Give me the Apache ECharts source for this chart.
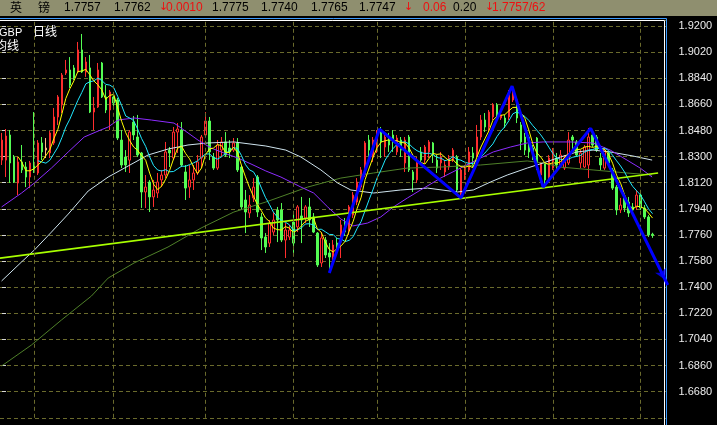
<!DOCTYPE html>
<html>
<head>
<meta charset="utf-8">
<script src="https://cdn.jsdelivr.net/npm/echarts@6/dist/echarts.min.js"></script>
<style>
html, body { margin: 0; padding: 0; background: #000; }
#chart { width: 717px; height: 425px; }
</style>
</head>
<body>
<div id="chart"></div>
<script>
// GBP daily candles, oldest first
const opens = [
  1.8276, 1.8276, 1.8449, 1.8297, 1.8118, 1.8263, 1.8228, 1.8159, 1.8242, 1.8187,
  1.8394, 1.8345, 1.8325, 1.8394, 1.8573, 1.8656, 1.8876, 1.8897, 1.8911, 1.8883,
  1.9035, 1.8883, 1.8911, 1.8607, 1.8642, 1.8945, 1.8711, 1.8621, 1.8711, 1.8690,
  1.8414, 1.8297, 1.8276, 1.8538, 1.8435, 1.8325, 1.8056, 1.8125, 1.8022, 1.8049,
  1.8139, 1.8173, 1.8345, 1.8290, 1.8469, 1.8483, 1.8194, 1.8090, 1.8139, 1.8187,
  1.8290, 1.8449, 1.8545, 1.8297, 1.8221, 1.8345, 1.8401, 1.8359, 1.8345, 1.8394,
  1.8228, 1.8001, 1.7911, 1.8015, 1.8159, 1.7884, 1.7746, 1.7704, 1.7780, 1.7932,
  1.7932, 1.7725, 1.7746, 1.7849, 1.7815, 1.7891, 1.7877, 1.7953, 1.7884, 1.7773,
  1.7567, 1.7725, 1.7636, 1.7608, 1.7704, 1.7711, 1.7849, 1.7794, 1.7897, 1.7987,
  1.8090, 1.8173, 1.8414, 1.8297, 1.8345, 1.8483, 1.8366, 1.8414, 1.8449, 1.8332,
  1.8414, 1.8256, 1.8435, 1.8194, 1.8139, 1.8332, 1.8276, 1.8332, 1.8394, 1.8276,
  1.8256, 1.8194, 1.8228, 1.8276, 1.8297, 1.8035, 1.8173, 1.8208, 1.8325, 1.8311,
  1.8435, 1.8552, 1.8504, 1.8573, 1.8656, 1.8566, 1.8566, 1.8573, 1.8690, 1.8690,
  1.8518, 1.8435, 1.8435, 1.8359, 1.8428, 1.8173, 1.8256, 1.8159, 1.8221, 1.8290,
  1.8242, 1.8221, 1.8256, 1.8435, 1.8401, 1.8256, 1.8228, 1.8242, 1.8449, 1.8435,
  1.8290, 1.8221, 1.8325, 1.8208, 1.8090, 1.7932, 1.8015, 1.7987, 1.7953, 1.7953,
  1.8035, 1.7946, 1.7884, 1.7765
];
const closes = [
  1.8414, 1.8442, 1.8256, 1.8125, 1.8263, 1.8208, 1.8159, 1.8256, 1.8194, 1.8394,
  1.8332, 1.8359, 1.8463, 1.8573, 1.8711, 1.8862, 1.8897, 1.8793, 1.8842, 1.9035,
  1.8883, 1.8952, 1.8607, 1.8635, 1.8897, 1.8711, 1.8621, 1.8745, 1.8669, 1.8428,
  1.8242, 1.8242, 1.8469, 1.8449, 1.8311, 1.8056, 1.8090, 1.8022, 1.8070, 1.8125,
  1.8173, 1.8332, 1.8325, 1.8469, 1.8490, 1.8242, 1.8083, 1.8139, 1.8187, 1.8263,
  1.8435, 1.8545, 1.8332, 1.8221, 1.8380, 1.8401, 1.8311, 1.8332, 1.8394, 1.8208,
  1.7953, 1.7918, 1.7966, 1.8090, 1.7918, 1.7739, 1.7677, 1.7842, 1.7863, 1.7863,
  1.7725, 1.7794, 1.7794, 1.7704, 1.7953, 1.7863, 1.7953, 1.7863, 1.7780, 1.7553,
  1.7739, 1.7622, 1.7608, 1.7691, 1.7677, 1.7829, 1.7780, 1.7953, 1.8035, 1.8125,
  1.8208, 1.8394, 1.8345, 1.8414, 1.8449, 1.8401, 1.8435, 1.8380, 1.8401, 1.8428,
  1.8345, 1.8414, 1.8208, 1.8139, 1.8256, 1.8276, 1.8366, 1.8401, 1.8311, 1.8221,
  1.8297, 1.8242, 1.8290, 1.8345, 1.8070, 1.8208, 1.8221, 1.8332, 1.8290, 1.8435,
  1.8552, 1.8504, 1.8607, 1.8656, 1.8566, 1.8587, 1.8531, 1.8738, 1.8773, 1.8566,
  1.8401, 1.8345, 1.8332, 1.8297, 1.8256, 1.8256, 1.8139, 1.8290, 1.8345, 1.8242,
  1.8311, 1.8290, 1.8414, 1.8414, 1.8311, 1.8325, 1.8366, 1.8435, 1.8380, 1.8345,
  1.8242, 1.8345, 1.8256, 1.8083, 1.7932, 1.7966, 1.7946, 1.7911, 1.7932, 1.8035,
  1.7946, 1.7884, 1.7760, 1.7757
];
const lows = [
  1.8242, 1.8159, 1.8118, 1.8118, 1.8035, 1.8187, 1.8090, 1.8083, 1.8187, 1.8173,
  1.8276, 1.8290, 1.8290, 1.8380, 1.8518, 1.8600, 1.8862, 1.8773, 1.8828, 1.8876,
  1.8876, 1.8849, 1.8600, 1.8483, 1.8635, 1.8704, 1.8600, 1.8483, 1.8635, 1.8414,
  1.8221, 1.8194, 1.8187, 1.8414, 1.8297, 1.7946, 1.7946, 1.7918, 1.7953, 1.8015,
  1.8090, 1.8152, 1.8228, 1.8276, 1.8325, 1.8228, 1.8001, 1.8015, 1.8070, 1.8173,
  1.8221, 1.8435, 1.8276, 1.8208, 1.8208, 1.8297, 1.8297, 1.8290, 1.8332, 1.8194,
  1.7932, 1.7773, 1.7877, 1.7987, 1.7884, 1.7656, 1.7636, 1.7677, 1.7760, 1.7711,
  1.7711, 1.7601, 1.7725, 1.7636, 1.7780, 1.7704, 1.7842, 1.7815, 1.7773, 1.7539,
  1.7539, 1.7601, 1.7505, 1.7553, 1.7643, 1.7601, 1.7753, 1.7760, 1.7877, 1.7966,
  1.8070, 1.8159, 1.8276, 1.8263, 1.8325, 1.8290, 1.8297, 1.8332, 1.8332, 1.8311,
  1.8297, 1.8194, 1.8194, 1.8056, 1.8118, 1.8256, 1.8256, 1.8290, 1.8256, 1.8187,
  1.8208, 1.8159, 1.8208, 1.8263, 1.8056, 1.8015, 1.8139, 1.8194, 1.8228, 1.8297,
  1.8414, 1.8469, 1.8469, 1.8552, 1.8552, 1.8552, 1.8497, 1.8552, 1.8676, 1.8531,
  1.8345, 1.8311, 1.8290, 1.8276, 1.8208, 1.8139, 1.8104, 1.8139, 1.8208, 1.8208,
  1.8221, 1.8208, 1.8242, 1.8345, 1.8297, 1.8221, 1.8221, 1.8152, 1.8366, 1.8332,
  1.8208, 1.8208, 1.8228, 1.8070, 1.7897, 1.7911, 1.7918, 1.7884, 1.7925, 1.7932,
  1.7932, 1.7870, 1.7746, 1.7740
];
const highs = [
  1.8463, 1.8490, 1.8483, 1.8311, 1.8297, 1.8380, 1.8263, 1.8270, 1.8607, 1.8414,
  1.8435, 1.8428, 1.8476, 1.8635, 1.8724, 1.8876, 1.8966, 1.8986, 1.8931, 1.9090,
  1.9145, 1.8986, 1.9000, 1.8711, 1.8945, 1.8952, 1.8793, 1.8759, 1.8745, 1.8704,
  1.8483, 1.8345, 1.8483, 1.8580, 1.8587, 1.8332, 1.8173, 1.8139, 1.8139, 1.8187,
  1.8208, 1.8401, 1.8366, 1.8504, 1.8531, 1.8538, 1.8242, 1.8242, 1.8242, 1.8311,
  1.8449, 1.8607, 1.8573, 1.8325, 1.8414, 1.8435, 1.8469, 1.8414, 1.8428, 1.8428,
  1.8242, 1.8070, 1.8035, 1.8152, 1.8173, 1.7911, 1.7773, 1.7863, 1.7918, 1.7953,
  1.7980, 1.7842, 1.7829, 1.7911, 1.7966, 1.8022, 1.7966, 1.8015, 1.7911, 1.7780,
  1.7780, 1.7746, 1.7704, 1.7725, 1.7739, 1.7863, 1.7877, 1.7966, 1.8056, 1.8152,
  1.8228, 1.8407, 1.8449, 1.8435, 1.8483, 1.8504, 1.8449, 1.8463, 1.8483, 1.8449,
  1.8435, 1.8435, 1.8449, 1.8208, 1.8297, 1.8366, 1.8380, 1.8414, 1.8401, 1.8311,
  1.8332, 1.8276, 1.8311, 1.8359, 1.8311, 1.8221, 1.8242, 1.8366, 1.8366, 1.8518,
  1.8587, 1.8600, 1.8621, 1.8669, 1.8669, 1.8600, 1.8587, 1.8759, 1.8786, 1.8704,
  1.8538, 1.8463, 1.8449, 1.8380, 1.8435, 1.8263, 1.8263, 1.8311, 1.8359, 1.8325,
  1.8345, 1.8311, 1.8469, 1.8449, 1.8414, 1.8345, 1.8380, 1.8497, 1.8483, 1.8449,
  1.8325, 1.8366, 1.8332, 1.8221, 1.8104, 1.8015, 1.8035, 1.8022, 1.7980, 1.8070,
  1.8056, 1.7966, 1.7897, 1.7775
];
// the session that is drawn highlighted
const markedDay = 11;
// empty sessions kept on the right so the trend line reaches the frame
const padDays = 3;
// first session of each month
const monthStarts = [8, 28, 51, 73, 94, 116, 138, 160];

// slower averages: [session, price]
const ma20Pts = [
  [-0.1, 1.7953], [4.9, 1.8049], [8.1, 1.8118], [12.4, 1.8221], [16.6, 1.8332], [20.6, 1.8435],
  [24.1, 1.8476], [26.6, 1.8504], [29.1, 1.8552], [33.1, 1.8566], [37.4, 1.8552], [43.1, 1.8531],
  [45.6, 1.8483], [49.1, 1.8414], [52.4, 1.8359], [55.6, 1.8325], [59.1, 1.8290], [62.4, 1.8249],
  [66.1, 1.8201], [69.9, 1.8159], [74.9, 1.8090], [78.1, 1.8049], [81.6, 1.7953], [84.9, 1.7870],
  [87.9, 1.7822], [91.6, 1.7842], [94.9, 1.7884], [98.1, 1.7953], [101.6, 1.8015], [104.9, 1.8070],
  [109.9, 1.8152], [114.9, 1.8221], [119.9, 1.8290], [123.1, 1.8332], [127.4, 1.8366], [131.6, 1.8394],
  [135.6, 1.8401], [142.4, 1.8401], [148.1, 1.8394], [152.4, 1.8345], [156.6, 1.8276], [159.9, 1.8221],
  [162.9, 1.8159]
];
const ma60Pts = [
  [-0.1, 1.7443], [4.9, 1.7574], [8.1, 1.7656], [12.4, 1.7780], [16.6, 1.7904], [21.6, 1.8063],
  [26.6, 1.8159], [31.6, 1.8235], [36.6, 1.8311], [41.6, 1.8352], [46.6, 1.8380], [51.6, 1.8394],
  [58.1, 1.8401], [66.1, 1.8373], [71.1, 1.8345], [74.9, 1.8297], [79.9, 1.8208], [84.1, 1.8118],
  [87.4, 1.8070], [93.1, 1.8049], [99.9, 1.8070], [106.6, 1.8083], [114.1, 1.8056], [118.1, 1.8070],
  [122.4, 1.8125], [126.6, 1.8173], [131.6, 1.8221], [135.6, 1.8256], [139.9, 1.8297], [144.1, 1.8332],
  [148.1, 1.8345], [152.4, 1.8332], [158.1, 1.8304], [162.9, 1.8276]
];
const ma120Pts = [
  [-0.1, 1.6857], [7.4, 1.7002], [14.9, 1.7174], [22.4, 1.7339], [26.6, 1.7463], [33.1, 1.7567],
  [41.6, 1.7677], [49.9, 1.7808], [58.1, 1.7918], [66.1, 1.7987], [76.6, 1.8090], [84.9, 1.8152],
  [93.1, 1.8187], [101.6, 1.8221], [109.9, 1.8228], [119.9, 1.8242], [131.6, 1.8270], [135.6, 1.8256],
  [139.9, 1.8228], [148.1, 1.8208], [156.6, 1.8187], [162.9, 1.8173]
];
// long support line
const trendPts = [[-0.5, 1.7600], [164.4, 1.8187]];
// swing wave drawn over the bars, ending in an arrow past the frame
const wavePts = [
  [82, 1.7498], [94.6, 1.8490], [115, 1.8015], [127.8, 1.8786],
  [135.6, 1.8090], [147.5, 1.8495], [166.8, 1.7415]
];

// quote strip
const quoteTexts = ['英', '镑', '1.7757', '1.7762', '↓', '0.0010', '1.7775', '1.7740', '1.7765', '1.7747', '↓', '0.06', '0.20', '↓', '1.7757/62'];
const quoteFalling = [false, false, false, false, true, true, false, false, false, false, true, true, false, true, true];
const quoteLeft = [10, 38, 64, 114, 159, 166, 212, 261, 311, 359, 404, 423, 453, 485, 492];

const yTickMin = 1.650;
const yTickStep = 0.018;
const yTop = 1.92413;

function movingAverage(n) {
  return closes.map(function (_, i) {
    if (i < n - 1) return '-';
    let s = 0;
    for (let k = i - n + 1; k <= i; k++) s += closes[k];
    return +(s / n).toFixed(5);
  });
}

const dayCount = opens.length + padDays;
const dayLabels = [];
for (let i = 0; i < dayCount; i++) dayLabels.push(String(i));

const UP = '#ff2e2e';
const DOWN = '#54fc54';
const GRID = '#6a6a2c';
const WAVE = '#0000ff';
const SLOT = 4;            // pixels per session
const PLOT_LEFT = -1.5;
const PLOT_TOP = 20;
const PLOT_BOTTOM = 7.2;
// overlay area that runs past the frame so the wave arrow is not cut
const OVERLAY_RIGHT = 680;
const HEAD_LEN = 11;

const candleData = opens.map(function (o, i) {
  const v = [o, closes[i], lows[i], highs[i]];
  if (i === markedDay) {
    return { value: v, itemStyle: { color: '#000', borderColor: '#ffb887', borderColor0: '#ffb887' } };
  }
  return v;
});

const quoteGraphics = quoteTexts.map(function (t, i) {
  const cjk = /[\u4e00-\u9fff]/.test(t);
  return {
    type: 'text', left: quoteLeft[i], top: cjk ? 1 : 2, z: 100,
    style: {
      text: t,
      fill: quoteFalling[i] ? '#ee1010' : '#000000',
      font: (cjk ? '12px "Noto Sans CJK SC"' : (t === '↓' ? '11px "DejaVu Sans"' : '12px "Liberation Sans"'))
    }
  };
});

const plotRight = PLOT_LEFT + dayCount * SLOT;

const chart = echarts.init(document.getElementById('chart'), null, { renderer: 'canvas' });
chart.setOption({
  animation: false,
  backgroundColor: '#000000',
  grid: [
    { left: PLOT_LEFT, right: 717 - plotRight, top: PLOT_TOP, bottom: PLOT_BOTTOM },
    { left: PLOT_LEFT, right: 717 - OVERLAY_RIGHT, top: PLOT_TOP, bottom: PLOT_BOTTOM }
  ],
  xAxis: [
    { type: 'category', gridIndex: 0, data: dayLabels, boundaryGap: true, show: false },
    { type: 'value', gridIndex: 0, min: -0.5, max: dayCount - 0.5, show: false },
    { type: 'value', gridIndex: 1, min: -0.5, max: -0.5 + (OVERLAY_RIGHT - PLOT_LEFT) / SLOT, show: false }
  ],
  yAxis: [
    {
      type: 'value', gridIndex: 0, position: 'right', offset: 2,
      min: yTickMin, max: yTop, interval: yTickStep,
      axisLine: { show: false },
      axisTick: { show: true, length: 4, lineStyle: { color: '#d8d8d8' } },
      axisLabel: {
        color: '#ececec', fontSize: 11, fontFamily: 'Liberation Sans', margin: 10,
        showMinLabel: false, showMaxLabel: false,
        formatter: function (v) { return v.toFixed(4); }
      },
      splitLine: { show: true, lineStyle: { color: GRID, type: [4, 3], width: 1 } }
    },
    { type: 'value', gridIndex: 1, min: yTickMin, max: yTop, show: false }
  ],
  series: [
    {
      type: 'line', xAxisIndex: 1, yAxisIndex: 0, data: [], z: 1, silent: true,
      markLine: {
        silent: true, symbol: 'none', label: { show: false },
        lineStyle: { color: GRID, type: [4, 3], width: 1 },
        data: monthStarts.map(function (d) { return { xAxis: d }; })
      }
    },
    {
      type: 'candlestick', xAxisIndex: 0, yAxisIndex: 0, data: candleData, barWidth: 2, z: 2,
      itemStyle: { color: '#000000', color0: DOWN, borderColor: UP, borderColor0: DOWN, borderWidth: 1 }
    },
    { type: 'line', xAxisIndex: 1, yAxisIndex: 0, data: ma120Pts, symbol: 'none', z: 3, lineStyle: { color: '#4f8029', width: 1 } },
    { type: 'line', xAxisIndex: 1, yAxisIndex: 0, data: ma60Pts, symbol: 'none', z: 3, lineStyle: { color: '#cfe4ee', width: 1 } },
    { type: 'line', xAxisIndex: 1, yAxisIndex: 0, data: ma20Pts, symbol: 'none', z: 3, lineStyle: { color: '#8d2cff', width: 1 } },
    { type: 'line', xAxisIndex: 0, yAxisIndex: 0, data: movingAverage(10), symbol: 'none', z: 3, lineStyle: { color: '#20e8ff', width: 1 } },
    { type: 'line', xAxisIndex: 0, yAxisIndex: 0, data: movingAverage(5), symbol: 'none', z: 3, lineStyle: { color: '#ffff00', width: 1 } },
    { type: 'line', xAxisIndex: 1, yAxisIndex: 0, data: trendPts, symbol: 'none', z: 4, lineStyle: { color: '#a8ff00', width: 1.6 } },
    {
      type: 'line', xAxisIndex: 2, yAxisIndex: 1, data: wavePts, symbol: 'none', z: 95,
      lineStyle: { color: WAVE, width: 3 }
    },
    {
      id: 'waveHead', type: 'scatter', xAxisIndex: 2, yAxisIndex: 1, data: [], z: 96, silent: true,
      symbol: 'arrow', symbolSize: [9, HEAD_LEN], itemStyle: { color: WAVE }
    }
  ],
  graphic: [
    { type: 'rect', z: 90, shape: { x: 0, y: 0, width: 717, height: 16 }, style: { fill: '#8f8f6f' } },
    { type: 'polyline', z: 90, shape: { points: [[0, 18.5], [666.5, 18.5], [666.5, 425]] }, style: { stroke: '#3c9cff', lineWidth: 1, fill: null } },
    { type: 'polyline', z: 90, shape: { points: [[0, 20.5], [664.5, 20.5], [664.5, 425]] }, style: { stroke: '#ffffff', lineWidth: 1, fill: null } },
    { type: 'text', left: -1, top: 27, z: 100, style: { text: 'GBP', fill: '#ffffff', font: '11px "Liberation Sans"' } },
    { type: 'text', left: 33, top: 25, z: 100, style: { text: '日线', fill: '#ffffff', font: '12px "Noto Sans CJK SC"' } },
    { type: 'text', left: -5, top: 39, z: 100, style: { text: '均线', fill: '#ffffff', font: '12px "Noto Sans CJK SC"' } }
  ].concat(quoteGraphics)
});

// arrow head on the last wave leg, aligned with the leg's on-screen direction
(function () {
  const finder = { xAxisIndex: 2, yAxisIndex: 1 };
  const a = chart.convertToPixel(finder, wavePts[wavePts.length - 2]);
  const b = chart.convertToPixel(finder, wavePts[wavePts.length - 1]);
  const dx = b[0] - a[0], dy = b[1] - a[1];
  const len = Math.sqrt(dx * dx + dy * dy);
  const center = [b[0] - dx / len * HEAD_LEN / 2, b[1] - dy / len * HEAD_LEN / 2];
  const rotate = Math.atan2(-dy, dx) * 180 / Math.PI - 90;
  chart.setOption({
    series: [{ id: 'waveHead', data: [chart.convertFromPixel(finder, center)], symbolRotate: rotate }]
  });
})();
</script>
</body>
</html>
